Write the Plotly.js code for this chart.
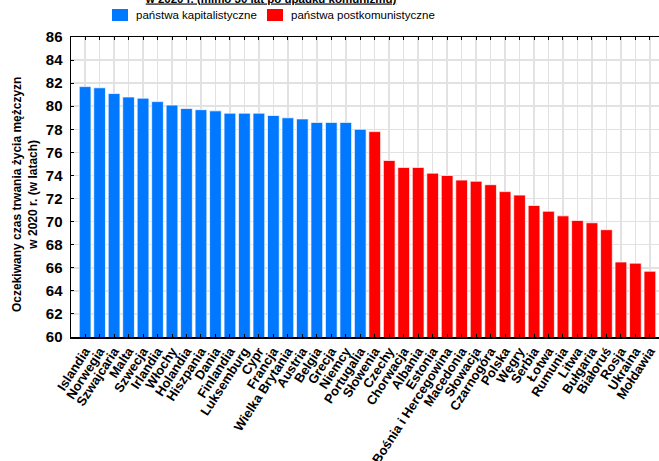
<!DOCTYPE html>
<html>
<head>
<meta charset="utf-8">
<script src="https://cdn.plot.ly/plotly-3.0.1.min.js"></script>
<style>
html, body { margin: 0; padding: 0; overflow: hidden; background: #fff; }
#chart { width: 664px; height: 461px; }
</style>
</head>
<body>
<div id="chart"></div>
<script>
// Data
var capCountries = ["Islandia","Norwegia","Szwajcaria","Malta","Szwecja","Irlandia","Włochy","Holandia","Hiszpania","Dania","Finlandia","Luksemburg","Cypr","Francja","Wielka Brytania","Austria","Belgia","Grecja","Niemcy","Portugalia"];
var capValues = [81.7,81.6,81.1,80.8,80.7,80.4,80.1,79.8,79.7,79.6,79.4,79.4,79.4,79.2,79.0,78.9,78.6,78.6,78.6,78.0];
var postCountries = ["Słowenia","Czechy","Chorwacja","Albania","Estonia","Bośnia i Hercegowina","Macedonia","Słowacja","Czarnogóra","Polska","Węgry","Serbia","Łotwa","Rumunia","Litwa","Bułgaria","Białoruś","Rosja","Ukraina","Mołdawia"];
var postValues = [77.8,75.3,74.7,74.7,74.2,74.0,73.6,73.5,73.2,72.6,72.3,71.4,70.9,70.5,70.1,69.9,69.3,66.5,66.4,65.7];
var yTicks = [60,62,64,66,68,70,72,74,76,78,80,82,84,86];
var seriesNames = ["państwa kapitalistyczne","państwa postkomunistyczne"];
var seriesColors = ["#0078ff","#ff0000"];
var yTitle = "Oczekiwany czas trwania życia mężczyzn<br>w 2020 r. (w latach)";
var chartTitle = "<u>w 2020 r. (mimo 30 lat po upadku komunizmu)</u>";

var baseFont = "Liberation Sans, Arial, sans-serif";
var W = 664, H = 461;
var ML = 71, MT = 37, PW = 593, PH = 300;
function px2x(p) { return (p - ML) / PW; }
function px2y(p) { return 1 - (p - MT) / PH; }

var traces = [
  {type:"bar", x:capCountries, y:capValues, name:seriesNames[0],
   marker:{color:seriesColors[0], line:{color:"rgba(255,255,255,0.7)", width:1}}},
  {type:"bar", x:postCountries, y:postValues, name:seriesNames[1],
   marker:{color:seriesColors[1], line:{color:"rgba(255,255,255,0.7)", width:1}}}
];

// Legend keys above the plot
var legendKeyX = [112, 267];
var shapes = [], annotations = [];
for (var i = 0; i < seriesNames.length; i++) {
  shapes.push({type:"rect", xref:"paper", yref:"paper",
    x0:px2x(legendKeyX[i]), x1:px2x(legendKeyX[i]+16),
    y0:px2y(21), y1:px2y(9),
    fillcolor:seriesColors[i], line:{width:0}});
  annotations.push({xref:"paper", yref:"paper", showarrow:false,
    x:px2x(legendKeyX[i]+22), xanchor:"left",
    y:px2y(15.5), yanchor:"middle",
    text:seriesNames[i], font:{family:baseFont, size:11.5, color:"#000"}});
}
// Y axis title (two lines, rotated)
annotations.push({xref:"paper", yref:"paper", showarrow:false,
  x:px2x(25), xanchor:"center", y:px2y(195), yanchor:"middle",
  textangle:-90, text:yTitle, align:"center",
  font:{family:baseFont, size:12, weight:"bold", color:"#000"}});

var layout = {
  width: W, height: H,
  margin: {l:ML, r:W-ML-PW, t:MT, b:H-MT-PH, pad:0},
  paper_bgcolor:"#fff", plot_bgcolor:"#fff",
  barmode:"overlay", bargap:0.19,
  showlegend:false,
  font:{family:baseFont, color:"#000"},
  title:{
    text:chartTitle,
    font:{family:baseFont, size:11.5, weight:"bold", color:"#000"},
    xref:"container", x:271/W, xanchor:"center",
    yref:"container", y:1-2.5/H, yanchor:"bottom"
  },
  shapes:shapes,
  annotations:annotations,
  xaxis:{
    type:"category",
    range:[-0.975, 39.975],
    tickmode:"linear", tick0:0, dtick:1,
    tickangle:-57,
    tickfont:{family:baseFont, size:13, weight:"bold"},
    ticks:"inside", ticklen:3, tickwidth:1, tickcolor:"#000",
    showgrid:true, gridcolor:"#e2e2e2", gridwidth:1.5,
    showline:true, linecolor:"#000", linewidth:1.5, mirror:"ticks",
    zeroline:false, automargin:false
  },
  yaxis:{
    range:[60,86],
    tickvals:yTicks, ticktext:yTicks.map(String),
    tickfont:{family:baseFont, size:15, weight:"bold"},
    ticks:"inside", ticklen:3, tickwidth:1, tickcolor:"#000",
    ticklabelstandoff:4,
    showgrid:true, gridcolor:"#e2e2e2", gridwidth:1.5,
    showline:true, linecolor:"#000", linewidth:1.5, mirror:"ticks",
    zeroline:false, automargin:false
  }
};

Plotly.newPlot("chart", traces, layout, {displayModeBar:false, staticPlot:true});
</script>
</body>
</html>
